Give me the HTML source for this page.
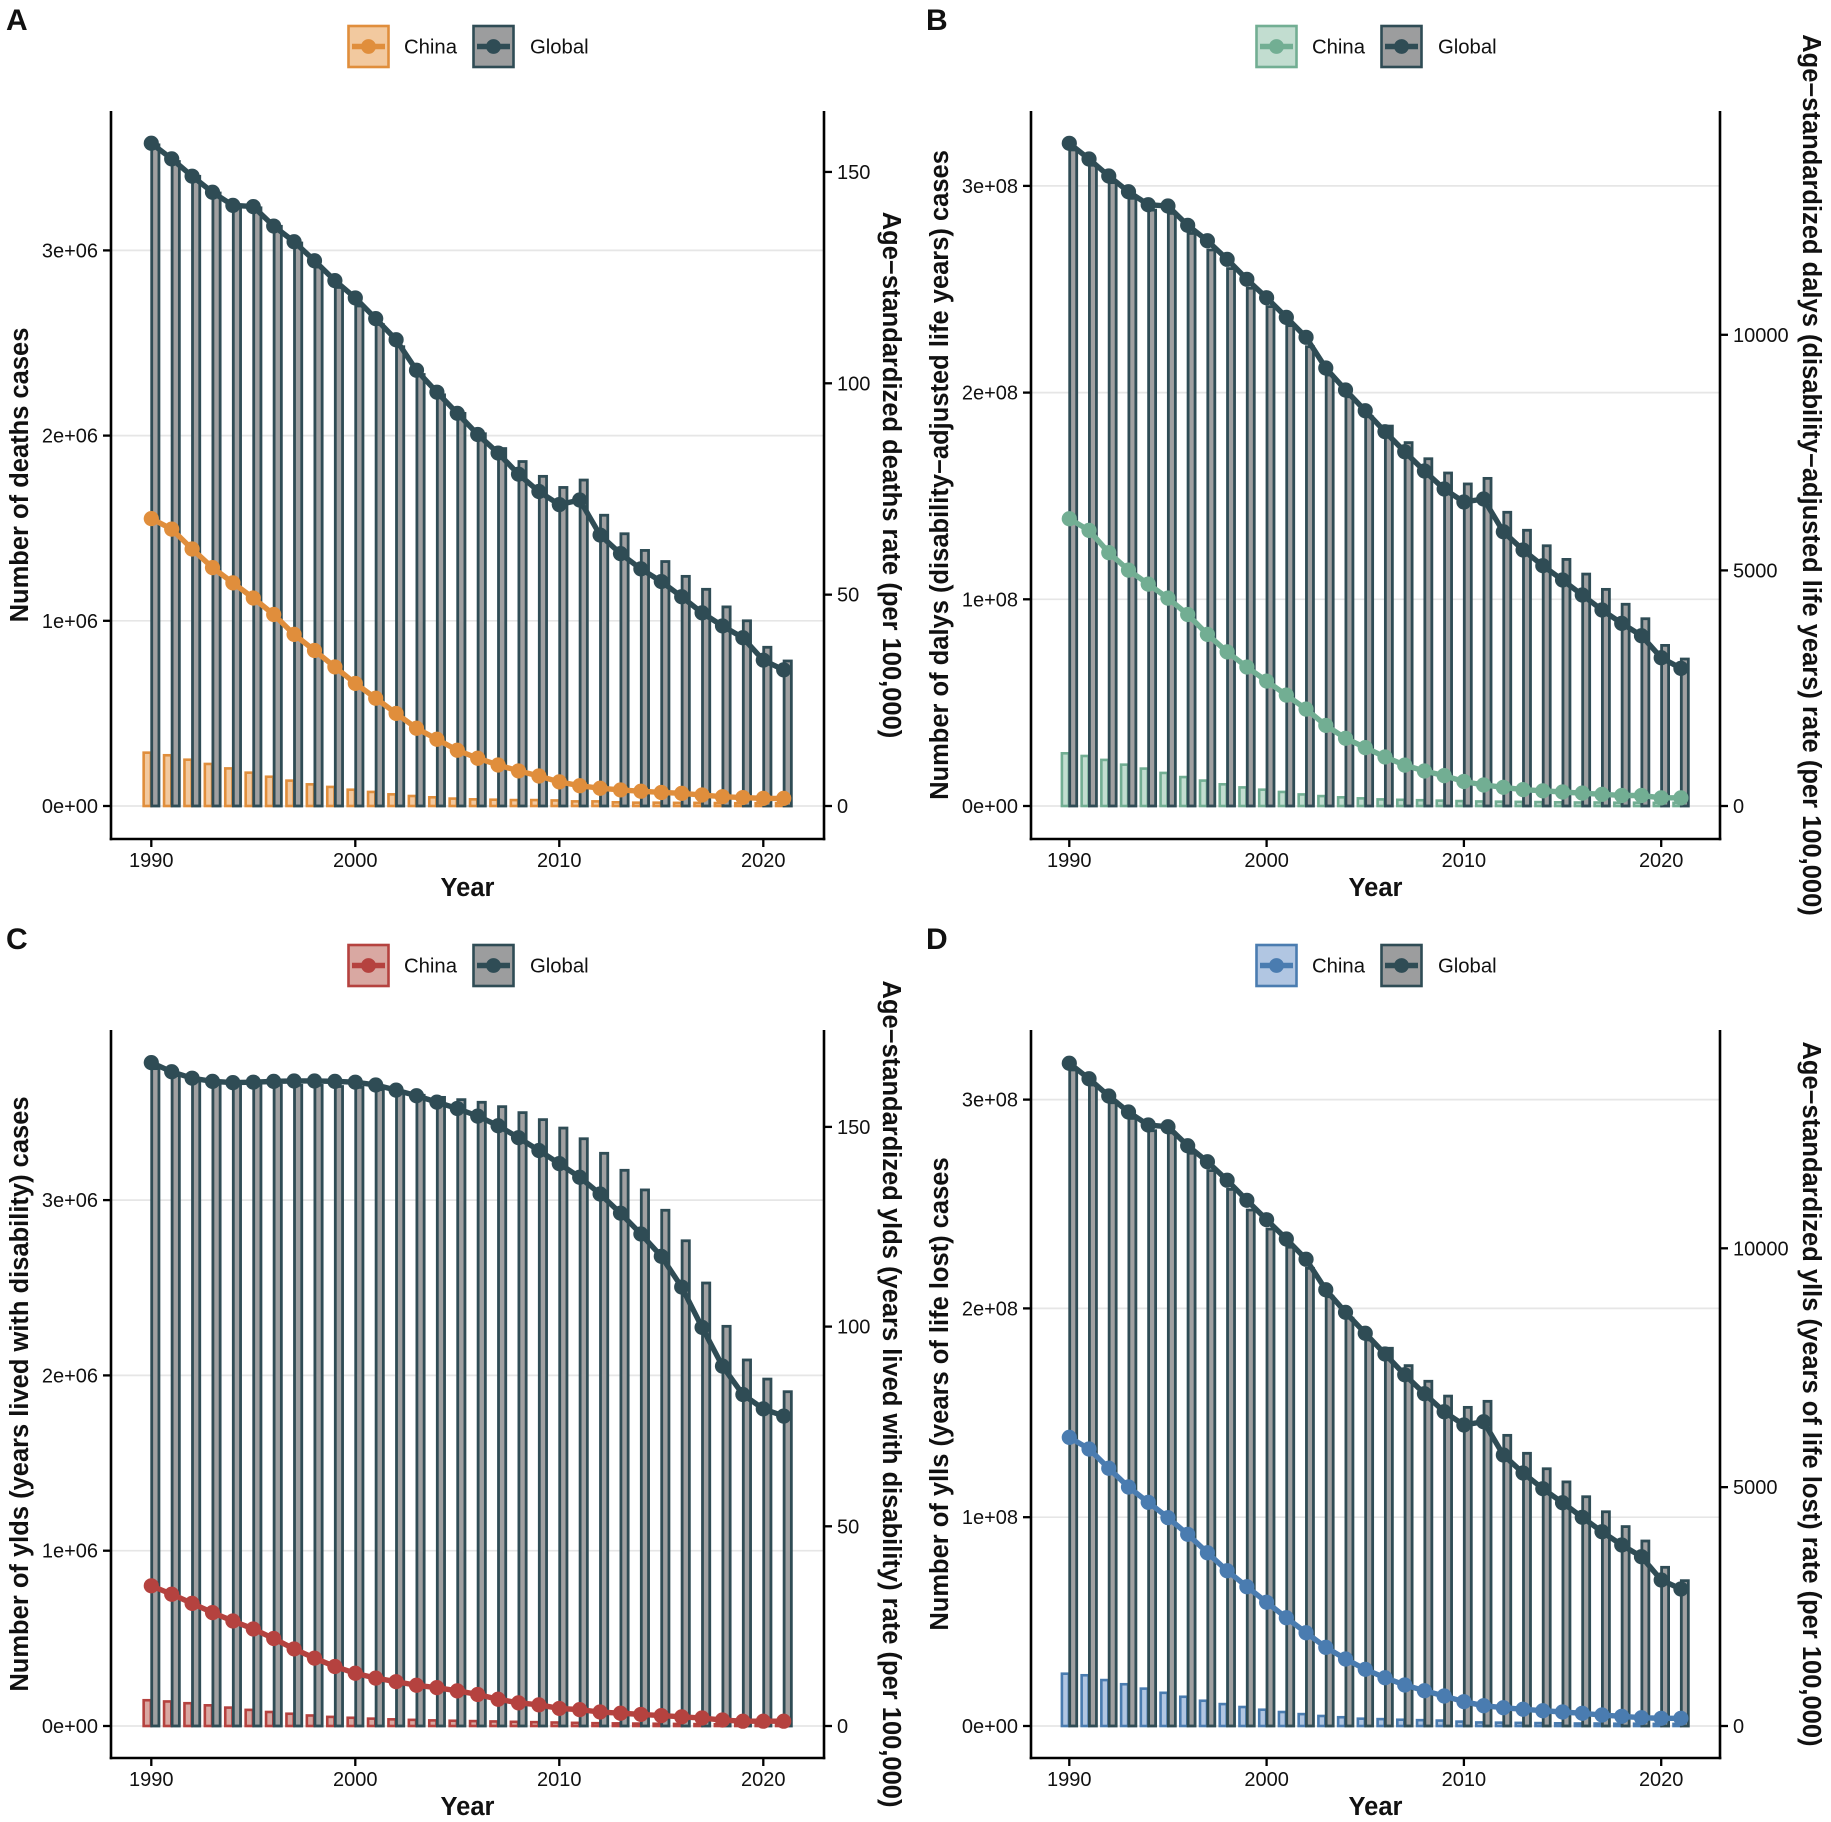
<!DOCTYPE html>
<html lang="en">
<head>
<meta charset="utf-8">
<title>Age-standardized burden, China and Global, 1990–2021</title>
<style>
html,body{margin:0;padding:0;background:#fff;}
svg{display:block;}
text{font-family:"Liberation Sans",Arial,sans-serif;fill:#111;}
.tick{font-size:20px;}
.title{font-size:25.5px;font-weight:bold;}
.letter{font-size:30px;font-weight:bold;}
.leg{font-size:20.3px;}
</style>
</head>
<body>
<svg id="figure" xmlns="http://www.w3.org/2000/svg" width="1831" height="1822" viewBox="0 0 1831 1822">
<rect width="1831" height="1822" fill="#fff"/>

<g id="panel-a"></g>
<g id="panel-b"></g>
<g id="panel-c"></g>
<g id="panel-d"></g>

<text class="letter" x="6" y="30">A</text>
<text class="letter" x="926" y="30">B</text>
<text class="letter" x="6" y="949">C</text>
<text class="letter" x="926" y="949">D</text>

<text class="title" text-anchor="middle" transform="translate(28,475) rotate(-90)">Number of deaths cases</text>
<text class="title" text-anchor="middle" transform="translate(948,475) rotate(-90)">Number of dalys (disability−adjusted life years) cases</text>
<text class="title" text-anchor="middle" transform="translate(28,1394) rotate(-90)">Number of ylds (years lived with disability) cases</text>
<text class="title" text-anchor="middle" transform="translate(948,1394) rotate(-90)">Number of ylls (years of life lost) cases</text>

<text class="title" text-anchor="middle" transform="translate(883,475) rotate(90)">Age−standardized deaths rate (per 100,000)</text>
<text class="title" text-anchor="middle" transform="translate(1803,475) rotate(90)">Age−standardized dalys (disability−adjusted life years) rate (per 100,000)</text>
<text class="title" text-anchor="middle" transform="translate(883,1394) rotate(90)">Age−standardized ylds (years lived with disability) rate (per 100,000)</text>
<text class="title" text-anchor="middle" transform="translate(1803,1394) rotate(90)">Age−standardized ylls (years of life lost) rate (per 100,000)</text>

<text class="title" text-anchor="middle" x="467.5" y="896">Year</text>
<text class="title" text-anchor="middle" x="1375.5" y="896">Year</text>
<text class="title" text-anchor="middle" x="467.5" y="1815">Year</text>
<text class="title" text-anchor="middle" x="1375.5" y="1815">Year</text>

<g transform="translate(0,0)">
  <g>
    <rect x="348.5" y="26" width="40" height="41" fill="#F2C99F" stroke="#E08E3C" stroke-width="2.6"/>
    <line x1="352" x2="385" y1="46.5" y2="46.5" stroke="#E08E3C" stroke-width="5.4"/>
    <circle cx="368.5" cy="46.5" r="7.4" fill="#E08E3C"/>
    <text class="leg" x="404" y="53.5">China</text>
  </g>
  <g>
    <rect x="473.5" y="26" width="40" height="41" fill="#9C9D9E" stroke="#2F4C55" stroke-width="2.6"/>
    <line x1="477" x2="510" y1="46.5" y2="46.5" stroke="#2F4C55" stroke-width="5.4"/>
    <circle cx="493.5" cy="46.5" r="7.4" fill="#2F4C55"/>
    <text class="leg" x="530" y="53.5">Global</text>
  </g>
</g>
<g transform="translate(908,0)">
  <g>
    <rect x="348.5" y="26" width="40" height="41" fill="#C2DDD0" stroke="#72AE93" stroke-width="2.6"/>
    <line x1="352" x2="385" y1="46.5" y2="46.5" stroke="#72AE93" stroke-width="5.4"/>
    <circle cx="368.5" cy="46.5" r="7.4" fill="#72AE93"/>
    <text class="leg" x="404" y="53.5">China</text>
  </g>
  <g>
    <rect x="473.5" y="26" width="40" height="41" fill="#9C9D9E" stroke="#2F4C55" stroke-width="2.6"/>
    <line x1="477" x2="510" y1="46.5" y2="46.5" stroke="#2F4C55" stroke-width="5.4"/>
    <circle cx="493.5" cy="46.5" r="7.4" fill="#2F4C55"/>
    <text class="leg" x="530" y="53.5">Global</text>
  </g>
</g>
<g transform="translate(0,919)">
  <g>
    <rect x="348.5" y="26" width="40" height="41" fill="#D9A8A2" stroke="#B5423F" stroke-width="2.6"/>
    <line x1="352" x2="385" y1="46.5" y2="46.5" stroke="#B5423F" stroke-width="5.4"/>
    <circle cx="368.5" cy="46.5" r="7.4" fill="#B5423F"/>
    <text class="leg" x="404" y="53.5">China</text>
  </g>
  <g>
    <rect x="473.5" y="26" width="40" height="41" fill="#9C9D9E" stroke="#2F4C55" stroke-width="2.6"/>
    <line x1="477" x2="510" y1="46.5" y2="46.5" stroke="#2F4C55" stroke-width="5.4"/>
    <circle cx="493.5" cy="46.5" r="7.4" fill="#2F4C55"/>
    <text class="leg" x="530" y="53.5">Global</text>
  </g>
</g>
<g transform="translate(908,919)">
  <g>
    <rect x="348.5" y="26" width="40" height="41" fill="#B1C6E2" stroke="#4A7CB0" stroke-width="2.6"/>
    <line x1="352" x2="385" y1="46.5" y2="46.5" stroke="#4A7CB0" stroke-width="5.4"/>
    <circle cx="368.5" cy="46.5" r="7.4" fill="#4A7CB0"/>
    <text class="leg" x="404" y="53.5">China</text>
  </g>
  <g>
    <rect x="473.5" y="26" width="40" height="41" fill="#9C9D9E" stroke="#2F4C55" stroke-width="2.6"/>
    <line x1="477" x2="510" y1="46.5" y2="46.5" stroke="#2F4C55" stroke-width="5.4"/>
    <circle cx="493.5" cy="46.5" r="7.4" fill="#2F4C55"/>
    <text class="leg" x="530" y="53.5">Global</text>
  </g>
</g>
</svg>

<script>
// Shared categories and x ticks
const years = [1990,1991,1992,1993,1994,1995,1996,1997,1998,1999,2000,2001,2002,2003,2004,2005,2006,2007,2008,2009,2010,2011,2012,2013,2014,2015,2016,2017,2018,2019,2020,2021];
const xTickValues = [1990,2000,2010,2020];

// Panel A: deaths (cases in millions, rate per 100,000)
const casesTicksA = [0,1,2,3];
const casesTickLabelsA = ['0e+00','1e+06','2e+06','3e+06'];
const rateTicksA = [0,50,100,150];
const globalCasesA = [3.57,3.48,3.40,3.31,3.24,3.23,3.13,3.04,2.91,2.80,2.70,2.60,2.48,2.33,2.22,2.12,2.01,1.93,1.86,1.78,1.72,1.76,1.57,1.47,1.38,1.32,1.24,1.17,1.075,1.00,0.857,0.783];
const chinaCasesA = [0.288,0.274,0.250,0.227,0.203,0.180,0.158,0.137,0.117,0.103,0.088,0.076,0.063,0.054,0.047,0.040,0.036,0.034,0.032,0.032,0.030,0.025,0.025,0.020,0.018,0.018,0.017,0.017,0.016,0.015,0.015,0.015];
const globalRateA = [156.8,153.1,149.0,145.2,142.1,141.8,137.2,133.5,129.0,124.3,120.2,115.3,110.3,103.1,97.9,92.9,87.9,83.5,78.5,74.4,71.3,72.4,64.1,59.7,56.1,53.1,49.5,45.7,42.6,39.8,34.5,32.2];
const chinaRateA = [68.0,65.5,60.8,56.4,52.8,49.2,45.3,40.6,36.8,32.9,29.0,25.5,21.9,18.4,15.8,13.2,11.3,9.7,8.3,7.1,5.7,4.8,4.2,3.8,3.5,3.2,3.0,2.6,2.2,2.0,1.8,1.8];

// Panel B: DALYs (cases in 1e8, rate per 100,000)
const casesTicksB = [0,1,2,3];
const casesTickLabelsB = ['0e+00','1e+08','2e+08','3e+08'];
const rateTicksB = [0,5000,10000];
const globalCasesB = [3.174,3.10,3.016,2.94,2.883,2.867,2.77,2.69,2.60,2.505,2.416,2.324,2.222,2.085,1.98,1.883,1.838,1.758,1.680,1.611,1.558,1.585,1.421,1.334,1.259,1.193,1.122,1.048,0.976,0.906,0.777,0.711];
const chinaCasesB = [0.255,0.242,0.223,0.200,0.181,0.160,0.140,0.123,0.105,0.090,0.079,0.068,0.056,0.048,0.042,0.037,0.032,0.030,0.028,0.026,0.024,0.022,0.021,0.020,0.019,0.018,0.017,0.017,0.016,0.016,0.015,0.015];
const globalRateB = [14064,13731,13370,13037,12761,12733,12324,11997,11602,11178,10787,10371,9947,9295,8829,8389,7944,7519,7109,6727,6452,6515,5821,5433,5100,4796,4478,4160,3877,3614,3147,2922];
const chinaRateB = [6097,5849,5378,5006,4709,4411,4064,3643,3271,2949,2652,2354,2057,1710,1437,1239,1041,867,743,644,520,446,397,347,322,297,273,248,223,223,173,173];

// Panel C: YLDs (cases in millions, rate per 100,000)
const casesTicksC = [0,1,2,3];
const casesTickLabelsC = ['0e+00','1e+06','2e+06','3e+06'];
const rateTicksC = [0,50,100,150];
const globalCasesC = [3.75,3.71,3.68,3.66,3.655,3.655,3.655,3.655,3.655,3.648,3.643,3.63,3.61,3.598,3.586,3.573,3.558,3.533,3.499,3.459,3.411,3.35,3.267,3.17,3.058,2.942,2.768,2.527,2.28,2.088,1.979,1.907];
const chinaCasesC = [0.147,0.140,0.130,0.118,0.105,0.092,0.080,0.070,0.060,0.052,0.047,0.042,0.038,0.035,0.032,0.030,0.028,0.026,0.024,0.022,0.020,0.018,0.016,0.015,0.014,0.013,0.012,0.011,0.010,0.010,0.009,0.009];
const globalRateC = [166.1,163.8,162.2,161.4,161.1,161.2,161.4,161.5,161.5,161.4,161.2,160.5,159.2,157.8,156.2,154.6,152.7,150.3,147.3,144.1,140.8,137.4,133.2,128.4,123.2,117.6,109.9,99.8,90.1,83.0,79.4,77.6];
const chinaRateC = [35.1,33.0,30.7,28.4,26.3,24.3,21.9,19.3,17.0,14.9,13.2,12.0,11.1,10.2,9.6,8.8,7.9,6.7,5.8,5.3,4.4,4.1,3.5,3.2,2.9,2.6,2.3,2.0,1.5,1.2,1.2,1.2];

// Panel D: YLLs (cases in 1e8, rate per 100,000)
const casesTicksD = [0,1,2,3];
const casesTickLabelsD = ['0e+00','1e+08','2e+08','3e+08'];
const rateTicksD = [0,5000,10000];
const globalCasesD = [3.142,3.07,2.985,2.91,2.851,2.841,2.743,2.66,2.57,2.471,2.38,2.293,2.192,2.056,1.953,1.849,1.809,1.726,1.651,1.58,1.526,1.555,1.392,1.306,1.232,1.169,1.098,1.026,0.955,0.886,0.76,0.696];
const chinaCasesD = [0.2505,0.243,0.22,0.20,0.179,0.159,0.14,0.121,0.105,0.091,0.078,0.067,0.057,0.048,0.042,0.035,0.033,0.030,0.028,0.026,0.021,0.017,0.016,0.015,0.014,0.013,0.012,0.012,0.011,0.011,0.010,0.010];
const globalRateD = [13873,13550,13188,12853,12581,12545,12148,11813,11424,11005,10599,10195,9770,9133,8660,8221,7787,7354,6956,6579,6301,6370,5673,5296,4968,4674,4369,4067,3789,3544,3056,2868];
const chinaRateD = [6043,5799,5395,5003,4683,4361,4013,3628,3251,2916,2590,2267,1953,1647,1403,1187,1011,858,739,628,509,425,383,350,320,293,266,230,203,174,161,161];

const SVGNS = 'http://www.w3.org/2000/svg';
const GLOBAL_STROKE = '#2F4C55';
const GLOBAL_FILL = '#A0A0A1';

function make(parent, tag, attrs) {
  const el = document.createElementNS(SVGNS, tag);
  for (const k in attrs) el.setAttribute(k, attrs[k]);
  parent.appendChild(el);
  return el;
}

function drawPanel(p) {
  const root = document.getElementById(p.id);
  const xScale = v => p.x1990 + (v - 1990) * p.xStep;
  const yCases = v => p.base - v * p.casesPx;
  const yRate = v => p.base - v * p.ratePx;
  const barW = p.xStep * 0.355;
  const gap = p.xStep * 0.02;

  // gridlines
  p.casesTicks.forEach(t => {
    const el = make(root, 'line', {x1:p.left, x2:p.right, y1:yCases(t), y2:yCases(t), stroke:'#e6e6e6', 'stroke-width':1.7});
    
    
  });

  // bars
  years.forEach((yr, i) => {
    const cx = xScale(yr);
    const c = make(root, 'rect', {x:cx - barW - gap, y:yCases(p.chinaCases[i]), width:barW, height:Math.max(0, p.base - yCases(p.chinaCases[i])), fill:p.fill, stroke:p.color, 'stroke-width':2.6});
    
    
  });
  years.forEach((yr, i) => {
    const cx = xScale(yr);
    const g = make(root, 'rect', {x:cx + gap, y:yCases(p.globalCases[i]), width:barW, height:Math.max(0, p.base - yCases(p.globalCases[i])), fill:GLOBAL_FILL, stroke:GLOBAL_STROKE, 'stroke-width':2.8});
    
    
  });

  // rate lines and points
  const chinaPts = years.map((yr, i) => xScale(yr) + ',' + yRate(p.chinaRate[i])).join(' ');
  const chinaLine = make(root, 'polyline', {points:chinaPts, fill:'none', stroke:p.color, 'stroke-width':5.4, 'stroke-linejoin':'round'});
  
  
  years.forEach((yr, i) => {
    const pt = make(root, 'circle', {cx:xScale(yr), cy:yRate(p.chinaRate[i]), r:7.6, fill:p.color});
    
    
  });
  const globalPts = years.map((yr, i) => xScale(yr) + ',' + yRate(p.globalRate[i])).join(' ');
  const globalLine = make(root, 'polyline', {points:globalPts, fill:'none', stroke:GLOBAL_STROKE, 'stroke-width':5.4, 'stroke-linejoin':'round'});
  
  
  years.forEach((yr, i) => {
    const pt = make(root, 'circle', {cx:xScale(yr), cy:yRate(p.globalRate[i]), r:7.6, fill:GLOBAL_STROKE});
    
    
  });

  // axes
  const axisLeft = make(root, 'line', {x1:p.left, x2:p.left, y1:p.top, y2:p.bottom + 1.3, stroke:'#000', 'stroke-width':2.6});
  
  
  const axisRight = make(root, 'line', {x1:p.right, x2:p.right, y1:p.top, y2:p.bottom + 1.3, stroke:'#000', 'stroke-width':2.6});
  
  
  const axisBottom = make(root, 'line', {x1:p.left - 1.3, x2:p.right + 1.3, y1:p.bottom, y2:p.bottom, stroke:'#000', 'stroke-width':2.6});
  
  

  // ticks and labels
  p.casesTicks.forEach((t, i) => {
    const y = yCases(t);
    const tk = make(root, 'line', {x1:p.left - 8, x2:p.left, y1:y, y2:y, stroke:'#000', 'stroke-width':2.3});
    
    
    const tx = make(root, 'text', {class:'tick', x:p.left - 13, y:y + 7, 'text-anchor':'end'});
    tx.textContent = p.casesLabels[i];
    
    
  });
  p.rateTicks.forEach(t => {
    const y = yRate(t);
    const tk = make(root, 'line', {x1:p.right, x2:p.right + 8, y1:y, y2:y, stroke:'#000', 'stroke-width':2.3});
    
    
    const tx = make(root, 'text', {class:'tick', x:p.right + 13, y:y + 7});
    tx.textContent = String(t);
    
    
  });
  xTickValues.forEach(t => {
    const x = xScale(t);
    const tk = make(root, 'line', {x1:x, x2:x, y1:p.bottom, y2:p.bottom + 8, stroke:'#000', 'stroke-width':2.3});
    
    
    const tx = make(root, 'text', {class:'tick', x:x, y:p.bottom + 28, 'text-anchor':'middle'});
    tx.textContent = String(t);
    
    
  });
}

drawPanel({id:'panel-a', left:111, right:824, top:111, bottom:839, base:806, x1990:151.3, xStep:20.4, casesPx:185.2, ratePx:4.227, color:'#E08E3C', fill:'#F2C99F',
  casesTicks:casesTicksA, casesLabels:casesTickLabelsA, rateTicks:rateTicksA, globalCases:globalCasesA, chinaCases:chinaCasesA, globalRate:globalRateA, chinaRate:chinaRateA});
drawPanel({id:'panel-b', left:1031, right:1720, top:111, bottom:839, base:806, x1990:1069.3, xStep:19.73, casesPx:206.7, ratePx:0.04712, color:'#72AE93', fill:'#C2DDD0',
  casesTicks:casesTicksB, casesLabels:casesTickLabelsB, rateTicks:rateTicksB, globalCases:globalCasesB, chinaCases:chinaCasesB, globalRate:globalRateB, chinaRate:chinaRateB});
drawPanel({id:'panel-c', left:111, right:824, top:1030, bottom:1758, base:1726, x1990:151.3, xStep:20.4, casesPx:175.3, ratePx:3.994, color:'#B5423F', fill:'#D9A8A2',
  casesTicks:casesTicksC, casesLabels:casesTickLabelsC, rateTicks:rateTicksC, globalCases:globalCasesC, chinaCases:chinaCasesC, globalRate:globalRateC, chinaRate:chinaRateC});
drawPanel({id:'panel-d', left:1031, right:1720, top:1030, bottom:1758, base:1726, x1990:1069.3, xStep:19.73, casesPx:208.8, ratePx:0.04777, color:'#4A7CB0', fill:'#B1C6E2',
  casesTicks:casesTicksD, casesLabels:casesTickLabelsD, rateTicks:rateTicksD, globalCases:globalCasesD, chinaCases:chinaCasesD, globalRate:globalRateD, chinaRate:chinaRateD});
</script>
</body>
</html>
